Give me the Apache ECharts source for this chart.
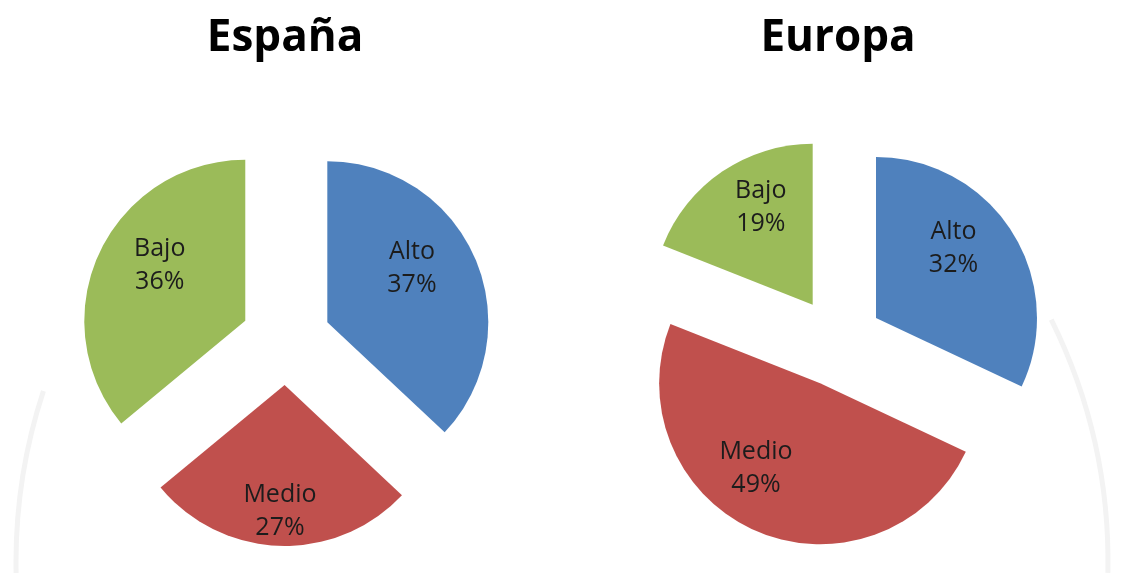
<!DOCTYPE html>
<html>

<head>
	<meta charset="UTF-8">
	<title>España / Europa</title>
	<style>
		html, body {
			margin: 0;
			padding: 0;
			background: #ffffff;
		}
		#chart1 {
			width: 1135px;
			height: 573px;
		}
	</style>
	<script src="https://cdn.jsdelivr.net/npm/echarts@6/dist/echarts.min.js"></script>
</head>

<body>
	<div id="chart1"></div>
	<script>
		// datos
		var categorias = ['Alto', 'Medio', 'Bajo'];
		var espana = [37, 27, 36];
		var europa = [32, 49, 19];
		var titulos = ['España', 'Europa'];

		// estilo
		var colores = ['#4f81bd', '#c0504d', '#9bbb59'];
		var fuente = '"Open Sans", "DejaVu Sans", sans-serif';
		// desplazamiento de etiquetas (como Excel), por serie y sector
		var desp = [
			[[8, -21], [-2, 43], [-10, -20]],
			[[7, -25], [-31, 8], [-5, -28]]
		];

		function datos(valores) {
			return valores.map(function (v, i) {
				return {
					name: categorias[i],
					value: v,
					selected: true,
					itemStyle: { color: colores[i] },
					select: { itemStyle: { color: colores[i], borderWidth: 0 } }
				};
			});
		}

		function serie(valores, centro) {
			return {
				type: 'pie',
				center: centro,
				radius: 161,
				startAngle: 90,
				clockwise: true,
				selectedMode: 'multiple',
				selectedOffset: 45,
				emphasis: { disabled: true },
				label: {
					show: true,
					position: 'inside',
					formatter: '{b}\n{c}%',
					color: '#1c1c1c',
					fontFamily: fuente,
					fontSize: 25,
					lineHeight: 33,
					align: 'center'
				},
				labelLine: { show: false },
				labelLayout: function (p) {
					var d = desp[p.seriesIndex][p.dataIndex];
					return { dx: d[0], dy: d[1] };
				},
				data: datos(valores)
			};
		}

		var myChart = echarts.init(document.getElementById('chart1'));
		myChart.setOption({
			animation: false,
			backgroundColor: '#ffffff',
			title: [
				{
					text: titulos[0],
					left: 280,
					top: 11,
					textAlign: 'center',
					textStyle: { fontFamily: fuente, fontSize: 44, fontWeight: 'bold', color: '#000' }
				},
				{
					text: titulos[1],
					left: 833,
					top: 11,
					textAlign: 'center',
					textStyle: { fontFamily: fuente, fontSize: 44, fontWeight: 'bold', color: '#000' }
				}
			],
			// marca de agua tenue
			graphic: [
				{
					type: 'arc', z: -10, silent: true,
					shape: { cx: 562, cy: 562, r: 546, startAngle: 3.12, endAngle: 3.46 },
					style: { fill: null, stroke: '#f3f3f3', lineWidth: 5 }
				},
				{
					type: 'arc', z: -10, silent: true,
					shape: { cx: 562, cy: 562, r: 546, startAngle: -0.46, endAngle: 0.02 },
					style: { fill: null, stroke: '#f3f3f3', lineWidth: 5 }
				}
			],
			series: [
				serie(espana, [286, 340]),
				serie(europa, [838, 342])
			]
		});
	</script>
</body>

</html>
